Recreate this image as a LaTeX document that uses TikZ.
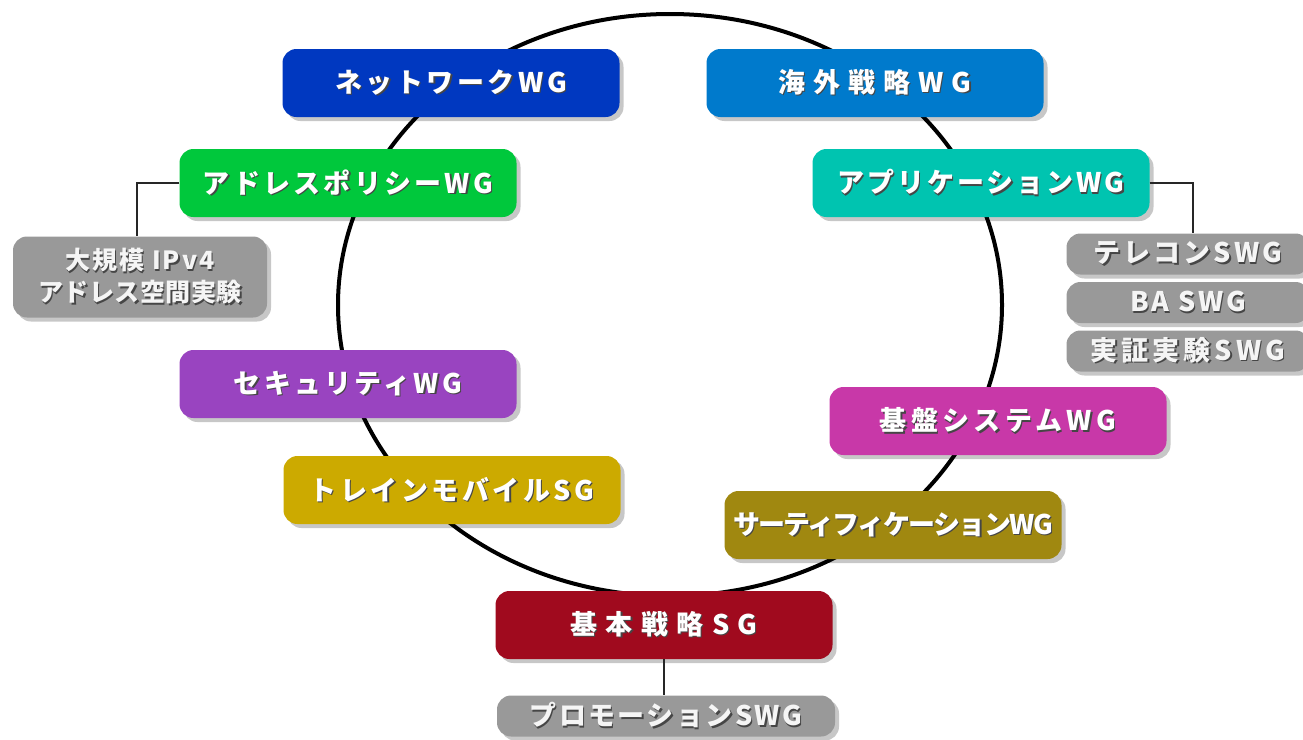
\documentclass[tikz,border=0pt]{standalone}
\usepackage{fontspec}
\newfontfamily\jp{Noto Sans CJK JP}
\usetikzlibrary{shadows}
\definecolor{cnet}{RGB}{0,56,192}
\definecolor{ckaigai}{RGB}{0,122,204}
\definecolor{cadr}{RGB}{0,200,60}
\definecolor{capp}{RGB}{0,196,176}
\definecolor{csec}{RGB}{153,68,192}
\definecolor{ckiban}{RGB}{200,56,168}
\definecolor{ctrain}{RGB}{204,170,0}
\definecolor{ccert}{RGB}{160,136,16}
\definecolor{ckihon}{RGB}{160,10,30}
\definecolor{boxgray}{RGB}{153,153,153}
\definecolor{gtext}{RGB}{245,245,245}
\definecolor{txtshadow}{RGB}{70,70,70}
\newcommand\shtext[2]{{\addfontfeatures{LetterSpace=#1}\rlap{\kern1.3pt\raisebox{-1.3pt}{\textcolor{txtshadow}{#2}}}#2}}
\tikzset{
  box/.style={rounded corners=14pt, minimum width=337pt, minimum height=68pt,
    inner sep=0pt, text=white, font=\jp\bfseries\fontsize{27}{32}\selectfont,
    drop shadow={shadow xshift=4pt, shadow yshift=-4pt, opacity=0.22, fill=black}},
  gbox/.style={box, fill=boxgray, minimum height=41pt, text=gtext},
  conn/.style={draw=black!85, line width=2pt},
}
\begin{document}
\begin{tikzpicture}[x=1pt,y=-1pt]
\useasboundingbox (0,0) rectangle (1303,739);
\clip (0,0) rectangle (1303,739);
\fill[white] (0,0) rectangle (1303,739);
\draw[line width=4pt] (670,305) ellipse [x radius=332pt, y radius=291pt];
\node[box, fill=cnet] (net) at (451,83) {\shtext{13}{ネットワークWG}};
\node[box, fill=ckaigai] (kaigai) at (875,83) {\shtext{30}{海外戦略WG}};
\node[box, fill=cadr] (adr) at (348,183) {\shtext{12}{アドレスポリシーWG}};
\node[box, fill=capp] (app) at (981,183) {\shtext{11}{アプリケーションWG}};
\node[box, fill=csec] (sec) at (348,384) {\shtext{12}{セキュリティWG}};
\node[box, fill=ckiban] (kiban) at (998,421) {\shtext{16}{基盤システムWG}};
\node[box, fill=ctrain] (train) at (452,490) {\shtext{13}{トレインモバイルSG}};
\node[box, fill=ccert] (cert) at (893,525) {\shtext{-6}{サーティフィケーションWG}};
\node[box, fill=ckihon] (kihon) at (664,625) {\shtext{31}{基本戦略SG}};
\node[gbox, minimum width=254pt, minimum height=81pt, align=center, font=\jp\bfseries\fontsize{25}{32}\selectfont] (ipv4) at (140,277) {\shtext{8}{大規模 IPv4}\\\shtext{2}{アドレス空間実験}};
\node[gbox, minimum width=243pt] (tel) at (1188,254) {\shtext{11}{テレコンSWG}};
\node[gbox, minimum width=243pt] (ba) at (1188,302.5) {\shtext{10}{BA SWG}};
\node[gbox, minimum width=243pt] (jissho) at (1188,351) {\shtext{15}{実証実験SWG}};
\node[gbox, minimum width=338pt] (promo) at (666,716) {\shtext{9}{プロモーションSWG}};
\draw[conn] (adr.west) -| ([xshift=-3pt]ipv4.north);
\draw[conn] (app.east) -| ([xshift=5pt]tel.north);
\draw[conn] (kihon.south) -- (kihon.south |- promo.north);
\end{tikzpicture}
\end{document}
